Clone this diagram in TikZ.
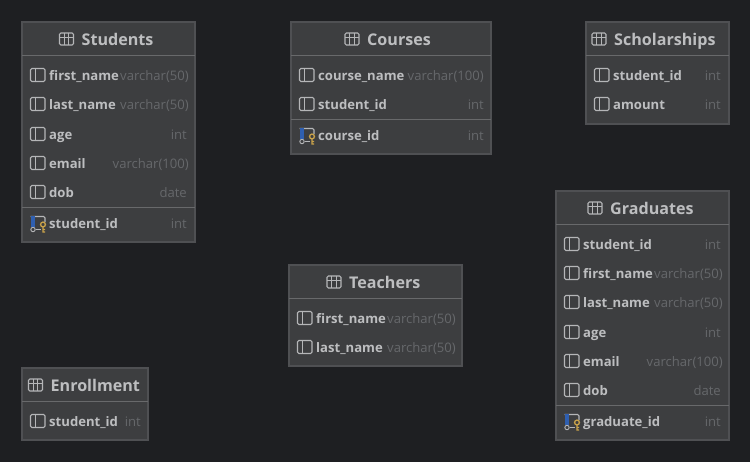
\documentclass[tikz,border=0pt]{standalone}
\usepackage{fontspec}
\setmainfont{Open Sans}
\definecolor{bgc}{HTML}{1E1F22}
\definecolor{boxc}{HTML}{3D3E40}
\definecolor{edgec}{HTML}{4F5053}
\definecolor{sepc}{HTML}{68696B}
\definecolor{namec}{HTML}{BDBEC0}
\definecolor{typec}{HTML}{66686B}
\definecolor{iconc}{HTML}{B5B6B8}
\definecolor{keyc}{HTML}{C9A24A}
\definecolor{bluec}{HTML}{2F5FB0}
\tikzset{
  tablebox/.style={fill=boxc,draw=edgec,line width=1pt},
  sepline/.style={draw=sepc,line width=0.75pt},
  titletext/.style={font=\fontsize{16.1}{18}\selectfont\bfseries,text=namec,anchor=base west,inner sep=0pt},
  nametext/.style={font=\fontsize{13.1}{15}\selectfont\bfseries,text=namec,anchor=base west,inner sep=0pt},
  typetext/.style={font=\fontsize{13.1}{15}\selectfont,text=typec,anchor=base east,inner sep=0pt},
  iconline/.style={draw=iconc,line width=0.8pt,rounded corners=1pt},
}
% table frame: id, x0, y0, x1, y1, header line y
\newcommand{\tframe}[6]{%
  \draw[tablebox] (#2,#3) rectangle (#4,#5);
  \draw[sepline] (#2,#6) -- (#4,#6);
}
% title: id, text, icon centre x, y
\newcommand{\ttitle}[4]{%
  \draw[iconline] (#3-7,#4-6) rectangle (#3+7,#4+6);
  \draw[iconc,line width=0.7pt] (#3-7,#4-2) -- (#3+7,#4-2) (#3-2.4,#4-6) -- (#3-2.4,#4+6) (#3+2.4,#4-6) -- (#3+2.4,#4+6);
  \node[titletext] (#1) at (#3+15,#4+6) {#2};
}
% row: id, left x, right x, y, name, type
\newcommand{\trow}[6]{%
  \draw[iconline] (#2+8.5,#4-6.5) rectangle (#2+23,#4+6.5);
  \draw[iconc,line width=0.8pt] (#2+13.5,#4-6.5) -- (#2+13.5,#4+6.5);
  \node[nametext] (#1n) at (#2+27,#4+5) {#5};
  \node[typetext] (#1t) at (#3,#4+5) {#6};
}
% primary key row
\newcommand{\tkey}[6]{%
  \draw[iconline] (#2+8.5,#4-6.5) -- (#2+23,#4-6.5) -- (#2+23,#4-1);
  \fill[bluec] (#2+8.5,#4-7) rectangle (#2+12.5,#4+3.5);
  \draw[iconc,line width=0.8pt] (#2+13.5,#4+6.5) -- (#2+19,#4+6.5);
  \draw[iconc,line width=0.7pt] (#2+11,#4+6.5) circle (2.2);
  \draw[keyc,line width=1pt] (#2+21,#4+1.5) circle (2.4) (#2+21,#4+4) -- (#2+21,#4+9) -- (#2+23,#4+9) (#2+21,#4+6.5) -- (#2+23,#4+6.5);
  \node[nametext] (#1n) at (#2+27,#4+5) {#5};
  \node[typetext] (#1t) at (#3,#4+5) {#6};
}
\begin{document}
\begin{tikzpicture}[x=0.75pt,y=-0.75pt,every node/.append style={scale=0.75}]
\fill[bgc] (0,0) rectangle (750,462);
\useasboundingbox (0,0) rectangle (750,462);
% Students
\tframe{st}{22}{22}{195}{242}{55}
\ttitle{stT}{Students}{66.5}{39}
\trow{st1}{22}{189}{75}{first\_name}{varchar(50)}
\trow{st2}{22}{189}{104}{last\_name}{varchar(50)}
\trow{st3}{22}{187}{134}{age}{int}
\trow{st4}{22}{189}{163}{email}{varchar(100)}
\trow{st5}{22}{187}{192}{dob}{date}
\draw[sepline] (22,207) -- (195,207);
\tkey{st6}{22}{187}{223}{student\_id}{int}
% Courses
\tframe{co}{291}{22}{491}{154}{55}
\ttitle{coT}{Courses}{352}{39}
\trow{co1}{291}{484}{75}{course\_name}{varchar(100)}
\trow{co2}{291}{484}{104}{student\_id}{int}
\draw[sepline] (291,119) -- (491,119);
\tkey{co3}{291}{484}{135}{course\_id}{int}
% Scholarships
\tframe{sc}{586}{22}{729}{124}{55}
\ttitle{scT}{Scholarships}{599}{39}
\trow{sc1}{586}{721}{75}{student\_id}{int}
\trow{sc2}{586}{721}{104}{amount}{int}
% Graduates
\tframe{gr}{556}{191}{729}{440}{224}
\ttitle{grT}{Graduates}{595}{208}
\trow{gr1}{556}{721}{244}{student\_id}{int}
\trow{gr2}{556}{723}{273}{first\_name}{varchar(50)}
\trow{gr3}{556}{723}{302}{last\_name}{varchar(50)}
\trow{gr4}{556}{721}{332}{age}{int}
\trow{gr5}{556}{723}{361}{email}{varchar(100)}
\trow{gr6}{556}{721}{390}{dob}{date}
\draw[sepline] (556,405) -- (729,405);
\tkey{gr7}{556}{721}{421}{graduate\_id}{int}
% Teachers
\tframe{te}{289}{265}{462}{366}{298}
\ttitle{teT}{Teachers}{334}{282}
\trow{te1}{289}{456}{318}{first\_name}{varchar(50)}
\trow{te2}{289}{456}{347}{last\_name}{varchar(50)}
% Enrollment
\tframe{en}{22}{368}{148}{440}{401}
\ttitle{enT}{Enrollment}{35.5}{385}
\trow{en1}{22}{141}{421}{student\_id}{int}
\end{tikzpicture}
\end{document}
